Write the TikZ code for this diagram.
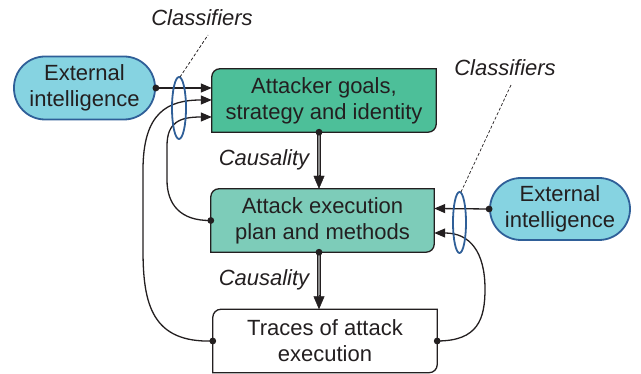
\documentclass[tikz,border=0pt]{standalone}
\usepackage{fontspec}
\setmainfont{Liberation Sans}
\usetikzlibrary{arrows.meta,backgrounds,calc}
\definecolor{txt}{HTML}{231F20}
\definecolor{goalfill}{HTML}{4DBF99}
\definecolor{planfill}{HTML}{7DCCB9}
\definecolor{eifill}{HTML}{86D3E1}
\definecolor{eiline}{HTML}{2F5F98}
\definecolor{shaft}{HTML}{8A8A8A}
\newcommand\cornerbox[3]{\draw[#3, line width=1.3pt, fill=#2] (#1.south west) -- ([yshift=-8pt]#1.north west) arc[start angle=180,end angle=90,radius=8pt] -- (#1.north east) -- ([yshift=8pt]#1.south east) arc[start angle=0,end angle=-90,radius=8pt] -- cycle;}
\begin{document}
\begin{tikzpicture}[x=1pt,y=1pt,
  every node/.style={text=txt, font=\fontsize{22}{26}\selectfont},
  box/.style={minimum width=224pt, minimum height=63pt, align=center, inner sep=0pt},
  ei/.style={draw=eiline, line width=1.8pt, fill=eifill, rounded corners=31pt, minimum width=141pt, minimum height=63pt, align=center, inner sep=0pt},
  lbl/.style={font=\fontsize{22}{26}\selectfont\itshape},
  conn/.style={line width=1.3pt, txt, -{Triangle[length=11pt,width=9pt]}},
  causal/.style={line width=1pt, txt, double=shaft, double distance=2.4pt, shorten >=12pt},
  tip/.style={txt, -{Triangle[length=13pt,width=11pt]}},
  clsf/.style={draw=eiline, line width=1.8pt},
  lead/.style={dash pattern=on 3pt off 2pt, line width=0.7pt, txt},
  dot/.style={fill=txt},
]
\useasboundingbox (0,0) rectangle (641,374);
% nodes
\node[box] (goal) at (324,273.5) {Attacker goals,\\strategy and identity};
\node[box, minimum width=223pt] (plan) at (322.5,153.5) {Attack execution\\plan and methods};
\node[box] (trace) at (325,33) {Traces of attack\\execution};
\node[ei] (lei) at (84.5,286) {External\\intelligence};
\node[ei, minimum width=140pt, minimum height=62pt] (rei) at (560,165) {External\\intelligence};
\node[lbl] (cl1) at (202,356) {Classifiers};
\node[lbl] (cl2) at (505,306) {Classifiers};
\node[lbl] (ca1) at (264,214) {Causality};
\node[lbl] (ca2) at (264,94) {Causality};
\begin{scope}[on background layer]
\cornerbox{goal}{goalfill}{draw=txt}
\cornerbox{plan}{planfill}{draw=txt}
\cornerbox{trace}{white}{draw=txt}
\end{scope}
\coordinate (cx) at (319,0);
% causality arrows
\draw[causal] (goal.south -| cx) -- (plan.north -| cx);
\draw[tip] ([yshift=14pt]plan.north -| cx) -- (plan.north -| cx);
\draw[causal] (plan.south -| cx) -- (trace.north -| cx);
\draw[tip] ([yshift=14pt]trace.north -| cx) -- (trace.north -| cx);
\fill[dot] (goal.south -| cx) circle (3.4pt);
\fill[dot] (plan.south -| cx) circle (3.4pt);
% left connectors
\draw[conn] (lei.east) -- ([yshift=12.5pt]goal.west);
\draw[conn] (trace.west) .. controls (152,31) and (143,70) .. (143,124) -- (143,204) .. controls (143,262) and (168,274) .. ([yshift=0.5pt]goal.west);
\draw[conn] (plan.west) .. controls (180,153) and (167,170) .. (167,194) -- (167,228) .. controls (167,252) and (180,257) .. ([yshift=-16.5pt]goal.west);
\fill[dot] (lei.east) circle (3.4pt);
\fill[dot] (trace.west) circle (3.4pt);
\fill[dot] (plan.west) circle (3.4pt);
% right connectors
\draw[conn] (rei.west) -- ([yshift=12pt]plan.east);
\draw[conn] (trace.east) .. controls (478,33) and (485,55) .. (485,85) .. controls (485,122) and (470,141) .. ([yshift=-12.5pt]plan.east);
\fill[dot] (rei.west) circle (3.4pt);
\fill[dot] (trace.east) circle (3.4pt);
% classifier ellipses
\draw[clsf] (179,266) ellipse [x radius=7pt, y radius=31pt];
\draw[clsf] (459.5,151.5) ellipse [x radius=6.5pt, y radius=30.5pt];
\coordinate (e1) at (180,297);
\coordinate (e2) at (461,182);
\draw[lead] (e1) -- (208,339);
\draw[lead] (e2) -- (511,289);
\end{tikzpicture}
\end{document}
